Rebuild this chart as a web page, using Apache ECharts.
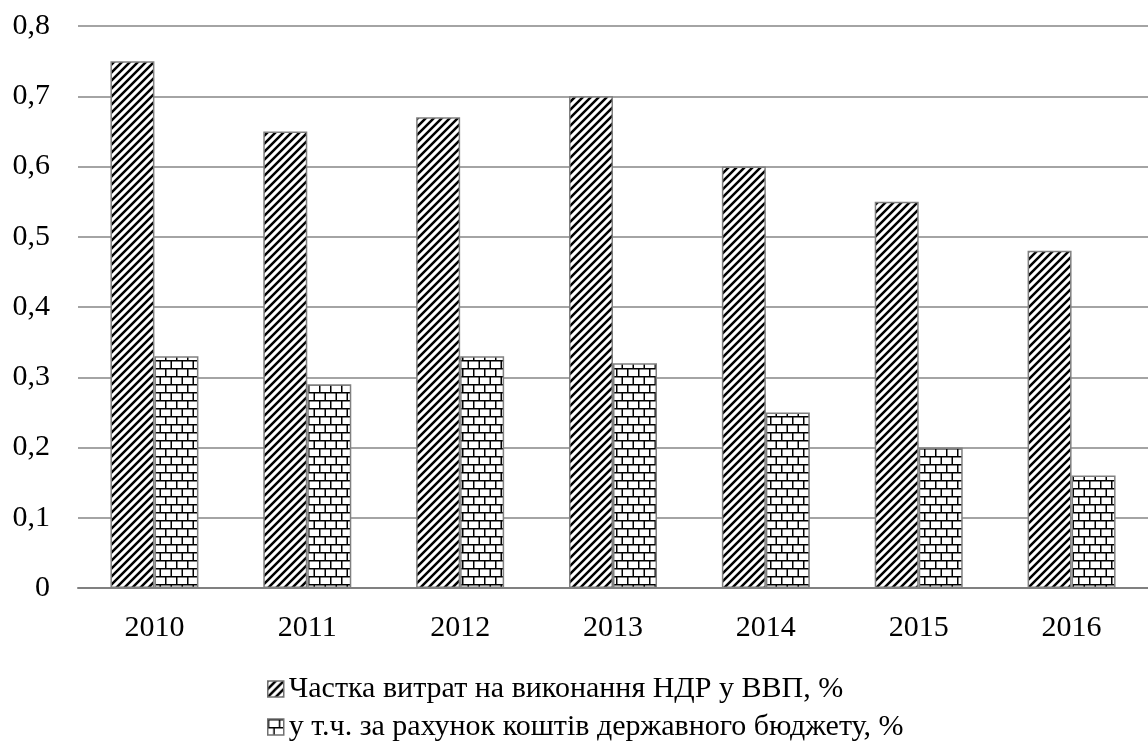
<!DOCTYPE html>
<html>
<head>
<meta charset="utf-8">
<script src="https://cdn.jsdelivr.net/npm/echarts@6/dist/echarts.min.js"></script>
<style>
  html, body { margin: 0; padding: 0; background: #fff; }
  #chart { width: 1148px; height: 745px; }
</style>
</head>
<body>
<div id="chart"></div>
<script>
// Chart data
const years = ['2010', '2011', '2012', '2013', '2014', '2015', '2016'];
const gdpShare = [0.75, 0.65, 0.67, 0.70, 0.60, 0.55, 0.48];
const budgetShare = [0.33, 0.29, 0.33, 0.32, 0.25, 0.20, 0.16];
const seriesNames = [
  'Частка витрат на виконання НДР у ВВП, %',
  'у т.ч. за рахунок коштів державного бюджету, %'
];

// Diagonal hatch fill
function makeHatch() {
  const s = 8;
  const c = document.createElement('canvas');
  c.width = s; c.height = s;
  const g = c.getContext('2d');
  g.fillStyle = '#fff';
  g.fillRect(0, 0, s, s);
  g.strokeStyle = '#000';
  g.lineWidth = 2.5;
  g.beginPath();
  g.moveTo(-2, s + 2); g.lineTo(s + 2, -2);
  g.moveTo(-2, 2); g.lineTo(2, -2);
  g.moveTo(s - 2, s + 2); g.lineTo(s + 2, s - 2);
  g.stroke();
  return c;
}

// Brick fill
function makeBrick() {
  const w = 22, h = 16, t = 1.5;
  const c = document.createElement('canvas');
  c.width = w; c.height = h;
  const g = c.getContext('2d');
  g.fillStyle = '#fff';
  g.fillRect(0, 0, w, h);
  g.fillStyle = '#000';
  g.fillRect(0, 0, w, t);
  g.fillRect(0, 8, w, t);
  g.fillRect(0, 0, t, 8);
  g.fillRect(11, 0, t, 8);
  g.fillRect(5.5, 8, t, 8);
  g.fillRect(16.5, 8, t, 8);
  return c;
}

const hatchFill = { image: makeHatch(), repeat: 'repeat' };
const brickFill = { image: makeBrick(), repeat: 'repeat' };

const font = '"Liberation Serif", "Times New Roman", serif';

const chart = echarts.init(document.getElementById('chart'), null, { renderer: 'canvas' });
chart.setOption({
  animation: false,
  backgroundColor: '#fff',
  textStyle: { fontFamily: font, color: '#000' },
  grid: { left: 78, right: 0, top: 26, bottom: 157, containLabel: false },
  legend: {
    orient: 'vertical',
    left: 267,
    top: 673,
    padding: 0,
    itemWidth: 16,
    itemHeight: 16,
    itemGap: 6,
    icon: 'rect',
    textStyle: { fontFamily: font, fontSize: 30, color: '#000', lineHeight: 32 },
    itemStyle: { borderColor: '#707070', borderWidth: 1.5 },
    data: seriesNames
  },
  xAxis: {
    type: 'category',
    data: years,
    axisLine: { lineStyle: { color: '#808080', width: 2 } },
    axisTick: { show: false },
    axisLabel: { fontFamily: font, fontSize: 30, color: '#000', margin: 25 }
  },
  yAxis: {
    type: 'value',
    min: 0,
    max: 0.8,
    interval: 0.1,
    axisLine: { show: false },
    axisTick: { show: false },
    splitLine: { lineStyle: { color: '#868686', width: 1.5 } },
    axisLabel: {
      fontFamily: font, fontSize: 30, color: '#000', margin: 28,
      formatter: v => (Math.round(v * 10) / 10).toString().replace('.', ',')
    }
  },
  series: [
    {
      name: seriesNames[0],
      type: 'bar',
      data: gdpShare,
      barWidth: 44,
      barGap: '0%',
      itemStyle: { color: hatchFill, borderColor: '#808080', borderWidth: 1.5 }
    },
    {
      name: seriesNames[1],
      type: 'bar',
      data: budgetShare,
      barWidth: 44,
      barGap: '0%',
      itemStyle: { color: brickFill, borderColor: '#808080', borderWidth: 1.5 }
    }
  ]
});
</script>
</body>
</html>
